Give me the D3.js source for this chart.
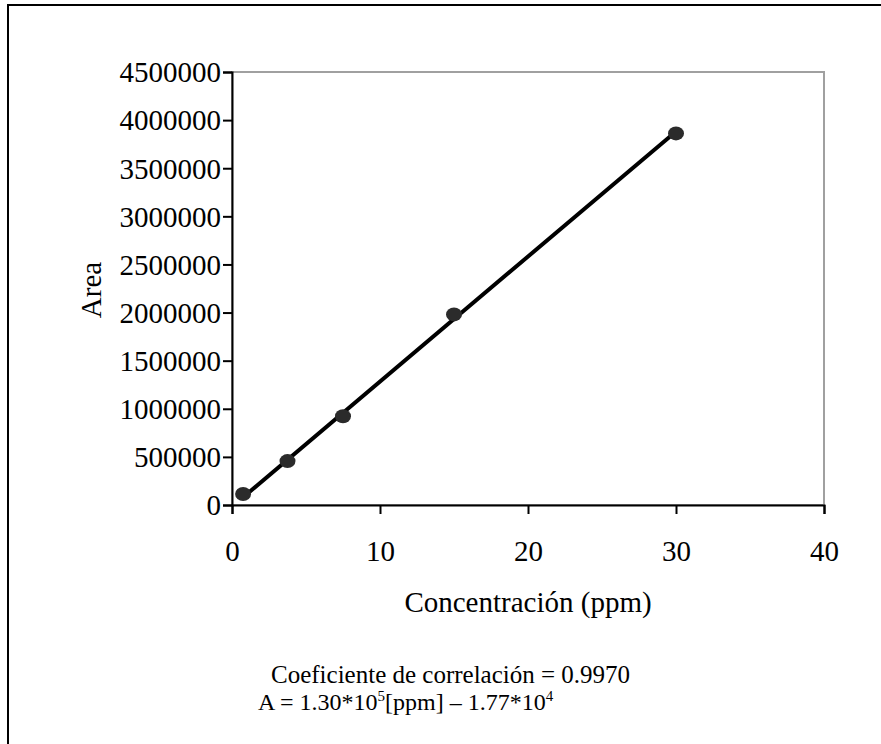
<!DOCTYPE html>
<html>
<head>
<meta charset="utf-8">
<script src="https://cdn.jsdelivr.net/npm/d3@7"></script>
<style>
  html, body { margin: 0; padding: 0; background: #fff; }
  svg { display: block; }
  text { font-family: "Liberation Serif", "Times New Roman", serif; fill: #000; }
</style>
</head>
<body>
<svg id="chart" width="881" height="744"></svg>
<script>
// Calibration data: concentration (ppm) vs. peak area
const concentration = [0.75, 3.75, 7.5, 15, 30];
const area = [114000, 456000, 923000, 1981000, 3862000];

// Linear fit reported under the chart: A = 1.30e5 * [ppm] - 1.77e4
const fitSlope = 130000;
const fitIntercept = -17700;
const fitRange = [0.75, 30];
const correlation = "0.9970";

// Axis ticks
const xTicks = [0, 10, 20, 30, 40];
const yTicks = [0, 500000, 1000000, 1500000, 2000000, 2500000, 3000000, 3500000, 4000000, 4500000];

const svg = d3.select("#chart");

// Outer frame (runs past the right and bottom edges of the page)
svg.append("rect")
  .attr("x", 8).attr("y", 5)
  .attr("width", 900).attr("height", 800)
  .attr("fill", "none").attr("stroke", "#000").attr("stroke-width", 2);

const plot = { left: 232, right: 824, top: 72, bottom: 505 };

const x = d3.scaleLinear().domain([0, 40]).range([plot.left, plot.right]);
const y = d3.scaleLinear().domain([0, 4500000]).range([plot.bottom, plot.top]);

// Plot-area border
svg.append("rect")
  .attr("x", plot.left).attr("y", plot.top)
  .attr("width", plot.right - plot.left).attr("height", plot.bottom - plot.top)
  .attr("fill", "none").attr("stroke", "#a0a0a0").attr("stroke-width", 2);

// Axes
const xAxis = d3.axisBottom(x).tickValues(xTicks).tickSize(9).tickPadding(26).tickFormat(d3.format("d"));
const yAxis = d3.axisLeft(y).tickValues(yTicks).tickSize(9).tickPadding(2).tickFormat(d3.format("d"));

const gx = svg.append("g").attr("transform", `translate(0,${plot.bottom})`).call(xAxis);
const gy = svg.append("g").attr("transform", `translate(${plot.left},0)`).call(yAxis);

[gx, gy].forEach(g => {
  g.select(".domain").attr("stroke", "#000").attr("stroke-width", 2);
  g.selectAll(".tick line").attr("stroke", "#000").attr("stroke-width", 2);
  g.selectAll(".tick text")
    .attr("font-family", "Liberation Serif, Times New Roman, serif")
    .attr("font-size", 29).attr("fill", "#000");
});
gy.selectAll(".tick text").attr("dy", "0.34em");

// Axis titles
svg.append("text")
  .attr("x", (plot.left + plot.right) / 2).attr("y", 612)
  .attr("text-anchor", "middle").attr("font-size", 29)
  .text("Concentración (ppm)");

svg.append("text")
  .attr("transform", `translate(101,290) rotate(-90)`)
  .attr("text-anchor", "middle").attr("font-size", 29)
  .text("Area");

// Regression line
const fitLine = d3.line().x(d => x(d)).y(d => y(fitSlope * d + fitIntercept));
svg.append("path")
  .datum(fitRange)
  .attr("d", fitLine)
  .attr("fill", "none").attr("stroke", "#000").attr("stroke-width", 4)
  .attr("stroke-linecap", "round");

// Measured points
svg.append("g").selectAll("ellipse")
  .data(concentration.map((c, i) => [c, area[i]]))
  .join("ellipse")
  .attr("cx", d => x(d[0])).attr("cy", d => y(d[1]))
  .attr("rx", 8).attr("ry", 7)
  .attr("fill", "#2b2b2b");

// Fit annotation
svg.append("text")
  .attr("x", 271).attr("y", 683)
  .attr("font-size", 25)
  .text(`Coeficiente de correlación = ${correlation}`);

const eq = svg.append("text")
  .attr("x", 258).attr("y", 710)
  .attr("font-size", 24);
eq.append("tspan").text("A = 1.30*10");
eq.append("tspan").attr("font-size", 15).attr("dy", -9).text("5");
eq.append("tspan").attr("dy", 9).text("[ppm] – 1.77*10");
eq.append("tspan").attr("font-size", 15).attr("dy", -9).text("4");
</script>
</body>
</html>
